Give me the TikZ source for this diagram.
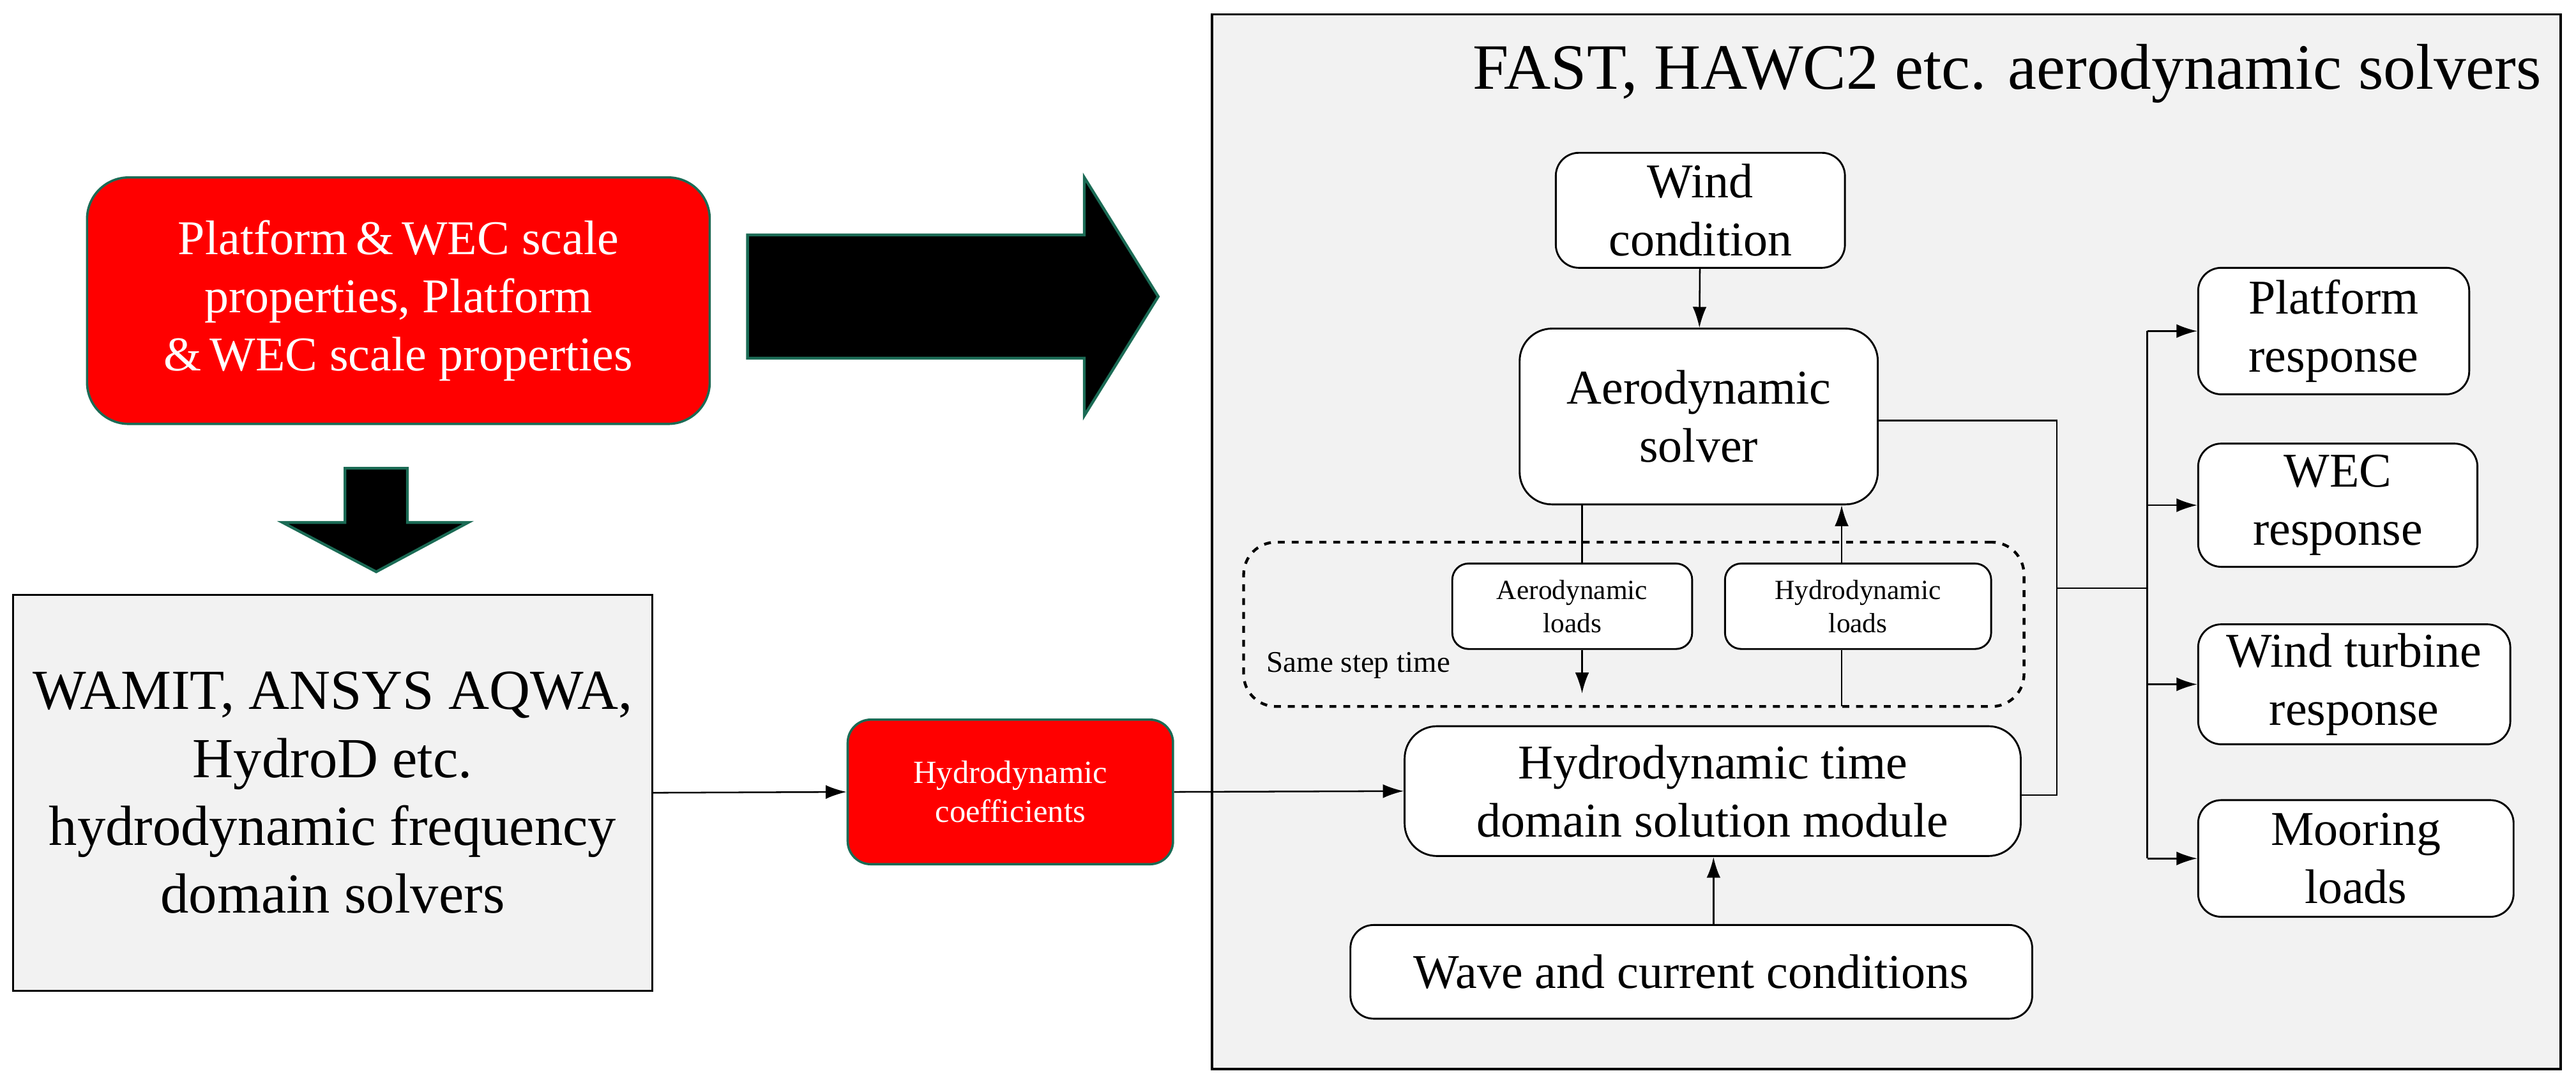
\documentclass[tikz,border=0pt]{standalone}
\usepackage{fontspec}
\setmainfont{Liberation Serif}
\usetikzlibrary{arrows.meta}
\definecolor{bgray}{HTML}{F2F2F2}
\definecolor{dgreen}{HTML}{1B6B55}
\begin{document}
\begin{tikzpicture}[x=0.025cm,y=-0.025cm,
  fs/.style={font=\fontsize{#1}{\dimexpr #1pt*6/5\relax}\selectfont},
  wbox/.style={draw,fill=white,rounded corners=10,line width=0.8pt,align=center,inner sep=0},
  rbox/.style={draw=dgreen,fill=red,text=white,rounded corners=18,line width=1pt,align=center,inner sep=0},
  arr/.style={-{Latex[length=9pt,width=6pt]},line width=0.7pt},
  ln/.style={line width=0.7pt},
  big/.style={fill=black,draw=dgreen,line width=1.2pt}]
\useasboundingbox (0,0) rectangle (1568,656);
% outer right box
\node[draw,fill=bgray,line width=1pt,minimum width=821*0.025cm,minimum height=642*0.025cm,anchor=north west,inner sep=0] (outer) at (737,8) {};
\node[fs=28,anchor=east] (title) at (1552,45) {FAST, HAWC2 etc. aerodynamic solvers};
% red box
\node[rbox,fs=21,minimum width=379*0.025cm,minimum height=150*0.025cm] (red) at (242.5,183) {Platform\,\&\,WEC scale\\properties, Platform\\\&\,WEC scale properties};
% big arrows
\path[big] (455,143) -- (660,143) -- (660,108) -- (705,180.5) -- (660,253) -- (660,218) -- (455,218) -- cycle;
\path[big] (210,285) -- (248,285) -- (248,318) -- (285,318) -- (229,348) -- (172,318) -- (210,318) -- cycle;
% left gray box
\node[draw,fill=bgray,line width=1pt,minimum width=389*0.025cm,minimum height=241*0.025cm,inner sep=0,align=center,fs=24.5] (wamit) at (202.5,482.5) {WAMIT, ANSYS AQWA,\\HydroD etc.\\hydrodynamic frequency\\domain solvers};
\node[rbox,rounded corners=10,fs=14,minimum width=198*0.025cm,minimum height=88*0.025cm] (coef) at (615,482) {Hydrodynamic\\coefficients};
% inner boxes
\node[wbox,fs=21,minimum width=176*0.025cm,minimum height=70*0.025cm] (wind) at (1035,128) {Wind\\condition};
\node[wbox,rounded corners=14,fs=21,minimum width=218*0.025cm,minimum height=107*0.025cm] (aero) at (1034,253.5) {Aerodynamic\\solver};
\node[draw,dashed,line width=1.2pt,rounded corners=14,minimum width=475*0.025cm,minimum height=100*0.025cm,inner sep=0] (dash) at (994.5,380) {};
\node[fs=13,anchor=south west] (same) at (766,418) {Same step time};
\node[wbox,rounded corners=7,fs=12,minimum width=146*0.025cm,minimum height=52*0.025cm] (aload) at (957,369) {Aerodynamic\\loads};
\node[wbox,rounded corners=7,fs=12,minimum width=162*0.025cm,minimum height=52*0.025cm] (hload) at (1131,369) {Hydrodynamic\\loads};
\node[wbox,rounded corners=14,fs=21,minimum width=375*0.025cm,minimum height=79*0.025cm] (time) at (1042.5,481.5) {Hydrodynamic time\\domain solution module};
\node[wbox,fs=21,minimum width=415*0.025cm,minimum height=57*0.025cm] (wave) at (1029.5,591.5) {Wave and current conditions};
\node[wbox,fs=21,minimum width=165*0.025cm,minimum height=77*0.025cm] (plat) at (1420.5,201.5) {Platform\\response};
\node[wbox,fs=21,minimum width=170*0.025cm,minimum height=75*0.025cm] (wec) at (1423,307.5) {WEC\\response};
\node[wbox,fs=21,minimum width=190*0.025cm,minimum height=73*0.025cm] (wt) at (1433,416.5) {Wind turbine\\response};
\node[wbox,fs=21,minimum width=192*0.025cm,minimum height=71*0.025cm] (moor) at (1434,522.5) {Mooring\\loads};
% connectors
\draw[arr] (wamit.east) -- (coef.west);
\draw[arr] (coef.east) -- (time.west);
\draw[arr] (wind) -- (aero);
\draw[ln] (aero.south -| 963,0) -- (aload.north -| 963,0);
\coordinate (adn) at (963,422);
\draw[arr] (aload.south -| 963,0) -- (adn);
\coordinate (hdn) at (1121,430);
\draw[ln] (hdn) -- (hload.south -| 1121,0);
\draw[arr] (hload.north -| 1121,0) -- (aero.south -| 1121,0);
\draw[arr,line width=1pt] (wave.north -| 1043,0) -- (time.south -| 1043,0);
\coordinate (c1) at (1252,256);
\coordinate (c2) at (1252,484);
\coordinate (br) at (1252,358);
\coordinate (vb) at (1307,358);
\coordinate (vt) at (1307,201.5);
\coordinate (vd) at (1307,522.5);
\draw[ln] (aero.east |- 0,256) -- (c1) -- (c2) -- (time.east |- 0,484);
\draw[ln] (br) -- (vb);
\draw[ln] (vt) -- (vd);
\draw[arr] (vt) -- (plat.west);
\draw[arr] (vt |- wec.west) -- (wec.west);
\draw[arr] (vt |- wt.west) -- (wt.west);
\draw[arr] (vd) -- (moor.west);
\end{tikzpicture}
\end{document}
